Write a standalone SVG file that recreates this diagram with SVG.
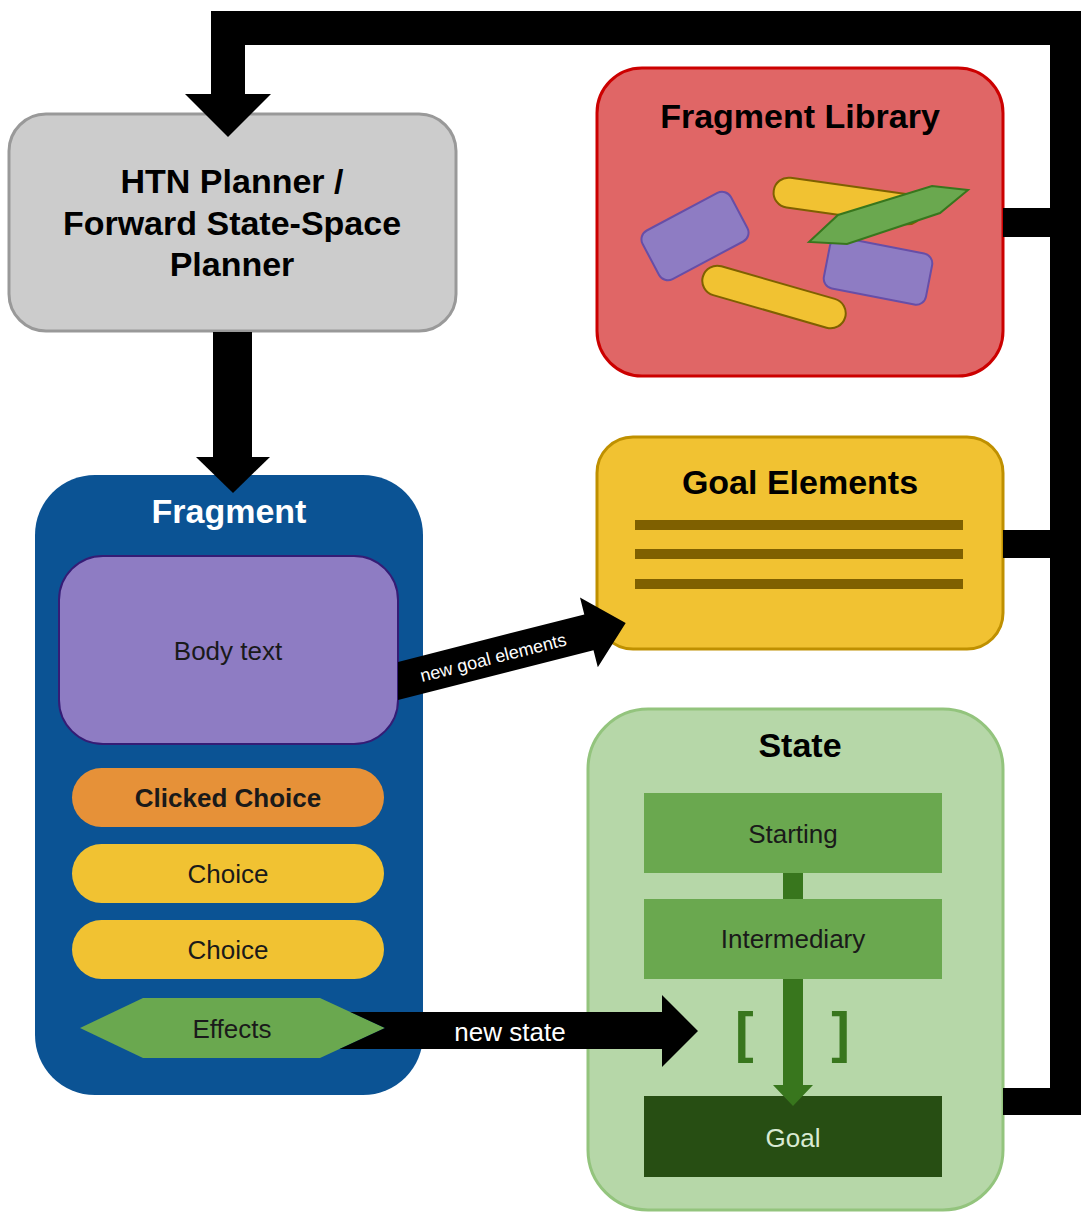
<svg xmlns="http://www.w3.org/2000/svg" width="1081" height="1213" viewBox="0 0 1081 1213">
<style>
text{font-family:"Liberation Sans",Arial,sans-serif;}
.title{font-size:34px;font-weight:bold;text-anchor:middle;}
.lbl{font-size:26px;text-anchor:middle;fill:#1a1a1a;}
.conn{fill:#000;}
.purple{fill:#8e7cc3;stroke:#674ea7;stroke-width:2;}
.yellow{fill:#f1c232;stroke:#7f6000;stroke-width:2;}
.green{fill:#6aa84f;stroke:#38761d;stroke-width:2;}
.bar{fill:#7f6000;}
.stbox{fill:#6aa84f;}
</style>
<rect width="1081" height="1213" fill="#ffffff"/>

<g id="htn-planner">
<rect x="9" y="114" width="447" height="217" rx="37" fill="#cccccc" stroke="#999999" stroke-width="3"/>
<text class="title" x="232" y="193" fill="#000">HTN Planner /</text>
<text class="title" x="232" y="235" fill="#000">Forward State-Space</text>
<text class="title" x="232" y="276" fill="#000">Planner</text>
</g>

<g id="fragment-library">
<rect x="597" y="68" width="406" height="308" rx="45" fill="#e06666" stroke="#cc0000" stroke-width="3"/>
<text class="title" x="800" y="128" fill="#000">Fragment Library</text>
<rect class="purple" x="-50" y="-27.5" width="100" height="55" rx="10" transform="translate(695,236) rotate(-28)"/>
<rect class="purple" x="-52" y="-26" width="104" height="52" rx="10" transform="translate(878,271) rotate(11)"/>
<rect class="yellow" x="-75" y="-15" width="150" height="30" rx="15" transform="translate(848,201) rotate(8)"/>
<rect class="yellow" x="-74" y="-15" width="148" height="30" rx="15" transform="translate(774,297) rotate(16)"/>
<polygon class="green" points="809,242 838,215 932,186 968,190 940,213 847,244"/>
</g>

<g id="goal-elements">
<rect x="597" y="437" width="406" height="212" rx="36" fill="#f1c232" stroke="#bf9000" stroke-width="3"/>
<text class="title" x="800" y="494" fill="#000">Goal Elements</text>
<rect class="bar" x="635" y="520" width="328" height="10"/>
<rect class="bar" x="635" y="549" width="328" height="10"/>
<rect class="bar" x="635" y="579" width="328" height="10"/>
</g>

<g id="fragment">
<rect x="35" y="475" width="388" height="620" rx="60" fill="#0b5394"/>
<text class="title" x="229" y="523" fill="#ffffff">Fragment</text>
<g id="body-text">
<rect x="59" y="556" width="339" height="188" rx="44" fill="#8e7cc3" stroke="#351c75" stroke-width="2"/>
<text class="lbl" x="228" y="660">Body text</text>
</g>
<g id="clicked-choice">
<rect x="72" y="768" width="312" height="59" rx="29.5" fill="#e69138"/>
<text class="lbl" x="228" y="807" style="font-weight:bold">Clicked Choice</text>
</g>
<g id="choice-1">
<rect x="72" y="844" width="312" height="59" rx="29.5" fill="#f1c232"/>
<text class="lbl" x="228" y="883">Choice</text>
</g>
<g id="choice-2">
<rect x="72" y="920" width="312" height="59" rx="29.5" fill="#f1c232"/>
<text class="lbl" x="228" y="959">Choice</text>
</g>
<g id="effects">
<polygon points="80,1028 143,998 320,998 385,1028 320,1058 143,1058" fill="#6aa84f"/>
<text class="lbl" x="232" y="1038">Effects</text>
</g>
</g>

<g id="state">
<rect x="588" y="709" width="415" height="501" rx="60" fill="#b6d7a8" stroke="#93c47d" stroke-width="3"/>
<text class="title" x="800" y="757" fill="#000">State</text>
<g id="starting">
<rect class="stbox" x="644" y="793" width="298" height="80"/>
<text class="lbl" x="793" y="843">Starting</text>
</g>
<rect x="783" y="873" width="20" height="26" fill="#38761d"/>
<g id="intermediary">
<rect class="stbox" x="644" y="899" width="298" height="80"/>
<text class="lbl" x="793" y="948">Intermediary</text>
</g>
<g id="goal">
<rect x="644" y="1096" width="298" height="81" fill="#274e13"/>
<text class="lbl" x="793" y="1147" style="fill:#d9ead3">Goal</text>
</g>
<polygon points="783,979 803,979 803,1085 813,1085 793,1106 773,1085 783,1085" fill="#38761d"/>
<text x="735" y="1051" style="font-size:56px;font-weight:bold;fill:#38761d">[</text>
<text x="850" y="1051" style="font-size:56px;font-weight:bold;fill:#38761d;text-anchor:end">]</text>
</g>

<g id="connectors">
<rect class="conn" x="211" y="11" width="870" height="34"/>
<rect class="conn" x="211" y="11" width="34" height="84"/>
<polygon class="conn" points="185,94 271,94 228,137"/>
<rect class="conn" x="1050" y="11" width="31" height="1104"/>
<rect class="conn" x="1003" y="208" width="47" height="29"/>
<rect class="conn" x="1003" y="530" width="47" height="28"/>
<rect class="conn" x="1003" y="1088" width="47" height="27"/>
<rect class="conn" x="213" y="332" width="39" height="126"/>
<polygon class="conn" points="196,457 270,457 233,493"/>
<polygon class="conn" points="398,661.9 584.3,614.4 580,597.5 625.7,623 597.8,667.2 593.5,650.3 398,700.1"/>
<text x="98" y="7" transform="translate(398,681) rotate(-14.3)" style="font-size:18px;fill:#fff;text-anchor:middle">new goal elements</text>
<polygon class="conn" points="350.3,1012 662,1012 662,995 698,1031 662,1067 662,1049 339.5,1049 385,1028"/>
<text x="510" y="1041" style="font-size:26px;fill:#fff;text-anchor:middle">new state</text>
</g>
</svg>
